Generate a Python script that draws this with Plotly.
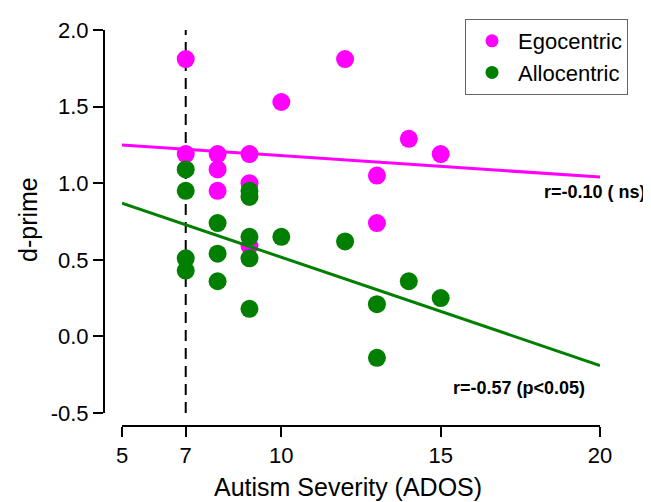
import plotly.graph_objects as go

# ---- data ----
ego_x = [7, 7, 8, 8, 8, 9, 9, 9, 10, 12, 13, 13, 14, 15]
ego_y = [1.81, 1.19, 1.19, 1.09, 0.95, 1.19, 1.00, 0.59, 1.53, 1.81, 1.05, 0.74, 1.29, 1.19]

allo_x = [7, 7, 7, 7, 8, 8, 8, 9, 9, 9, 9, 9, 10, 12, 13, 13, 14, 15]
allo_y = [1.09, 0.95, 0.51, 0.43, 0.74, 0.54, 0.36, 0.95, 0.91, 0.65, 0.51, 0.18,
          0.65, 0.62, 0.21, -0.14, 0.36, 0.25]

fit_x = [5, 20]
ego_fit = [1.25, 1.04]
allo_fit = [0.87, -0.19]

cutoff_x = 7
y_range = [-0.5, 2.0]
x_range = [5, 20]
x_ticks = [5, 7, 10, 15, 20]
y_ticks = [-0.5, 0.0, 0.5, 1.0, 1.5, 2.0]
y_ticktext = ["-0.5", "0.0", "0.5", "1.0", "1.5", "2.0"]

MAG = "#FF00FF"
GRN = "#007F00"
FONT = "Liberation Sans, Arial, Helvetica, sans-serif"

fig = go.Figure()

# cut-off dashed line
fig.add_trace(go.Scatter(x=[cutoff_x, cutoff_x], y=y_range, mode="lines",
                         line=dict(color="black", width=2, dash="11px,7px"),
                         showlegend=False, hoverinfo="skip"))

fig.add_trace(go.Scatter(x=ego_x, y=ego_y, mode="markers", name="Egocentric",
                         marker=dict(color=MAG, size=18), showlegend=False))
fig.add_trace(go.Scatter(x=allo_x, y=allo_y, mode="markers", name="Allocentric",
                         marker=dict(color=GRN, size=18), showlegend=False))

fig.add_trace(go.Scatter(x=fit_x, y=ego_fit, mode="lines",
                         line=dict(color=MAG, width=3), showlegend=False))
fig.add_trace(go.Scatter(x=fit_x, y=allo_fit, mode="lines",
                         line=dict(color=GRN, width=3), showlegend=False))

# legend entries
fig.add_trace(go.Scatter(x=[None], y=[None], mode="markers", name="Egocentric",
                         marker=dict(color=MAG, size=13)))
fig.add_trace(go.Scatter(x=[None], y=[None], mode="markers", name="Allocentric",
                         marker=dict(color=GRN, size=13)))

OFF = 8  # page body margin
W, H = 651 - OFF, 502 - OFF
L, R, T, B = 92, 0, 12, 52
PW, PH = W - L - R, H - T - B

def px_x(p):
    return (p - OFF - L) / PW

def px_y(p):
    return (H - B - (p - OFF)) / PH

fig.update_layout(
    width=W, height=H,
    margin=dict(l=L, r=R, t=T, b=B, autoexpand=False),
    plot_bgcolor="white", paper_bgcolor="white",
    font=dict(family=FONT, color="black"),
    xaxis=dict(range=x_range, domain=[px_x(122), px_x(600)], automargin=False,
               anchor="free", position=px_y(426),
               tickvals=x_ticks, ticks="outside", ticklen=10, tickwidth=2,
               tickcolor="black", showline=True, linecolor="black", linewidth=2,
               showgrid=False, zeroline=False, tickfont=dict(size=22)),
    yaxis=dict(range=y_range, domain=[px_y(413), px_y(30)], automargin=False,
               anchor="free", position=px_x(104),
               tickvals=y_ticks, ticktext=y_ticktext, ticks="outside", ticklen=10,
               tickwidth=2, tickcolor="black", showline=True, linecolor="black",
               linewidth=2, showgrid=False, zeroline=False, tickfont=dict(size=22)),
    legend=dict(x=px_x(628), y=px_y(19), xanchor="right", yanchor="top",
                bordercolor="#666666", borderwidth=1, bgcolor="white",
                itemwidth=42,
                font=dict(size=22, family=FONT), tracegroupgap=0),
    annotations=[
        dict(text="cut-off", x=cutoff_x, y=2.078, xref="x", yref="y",
             showarrow=False, font=dict(size=17), xanchor="center", yanchor="middle"),
        dict(text="<b>r=-0.10 ( ns)</b>", x=px_x(648), y=px_y(192), xref="paper",
             yref="paper", showarrow=False, font=dict(size=18),
             xanchor="right", yanchor="middle"),
        dict(text="<b>r=-0.57 (p<0.05)</b>", x=19.6, y=-0.337, xref="x", yref="y",
             showarrow=False, font=dict(size=18), xanchor="right", yanchor="middle"),
        dict(text="Autism Severity (ADOS)", x=px_x(348), y=px_y(487),
             xref="paper", yref="paper", showarrow=False, font=dict(size=25),
             xanchor="center", yanchor="middle"),
        dict(text="d-prime", x=px_x(28), y=px_y(220), xref="paper", yref="paper",
             showarrow=False, font=dict(size=25), textangle=-90,
             xanchor="center", yanchor="middle"),
    ],
)

fig.write_html("out.html")
